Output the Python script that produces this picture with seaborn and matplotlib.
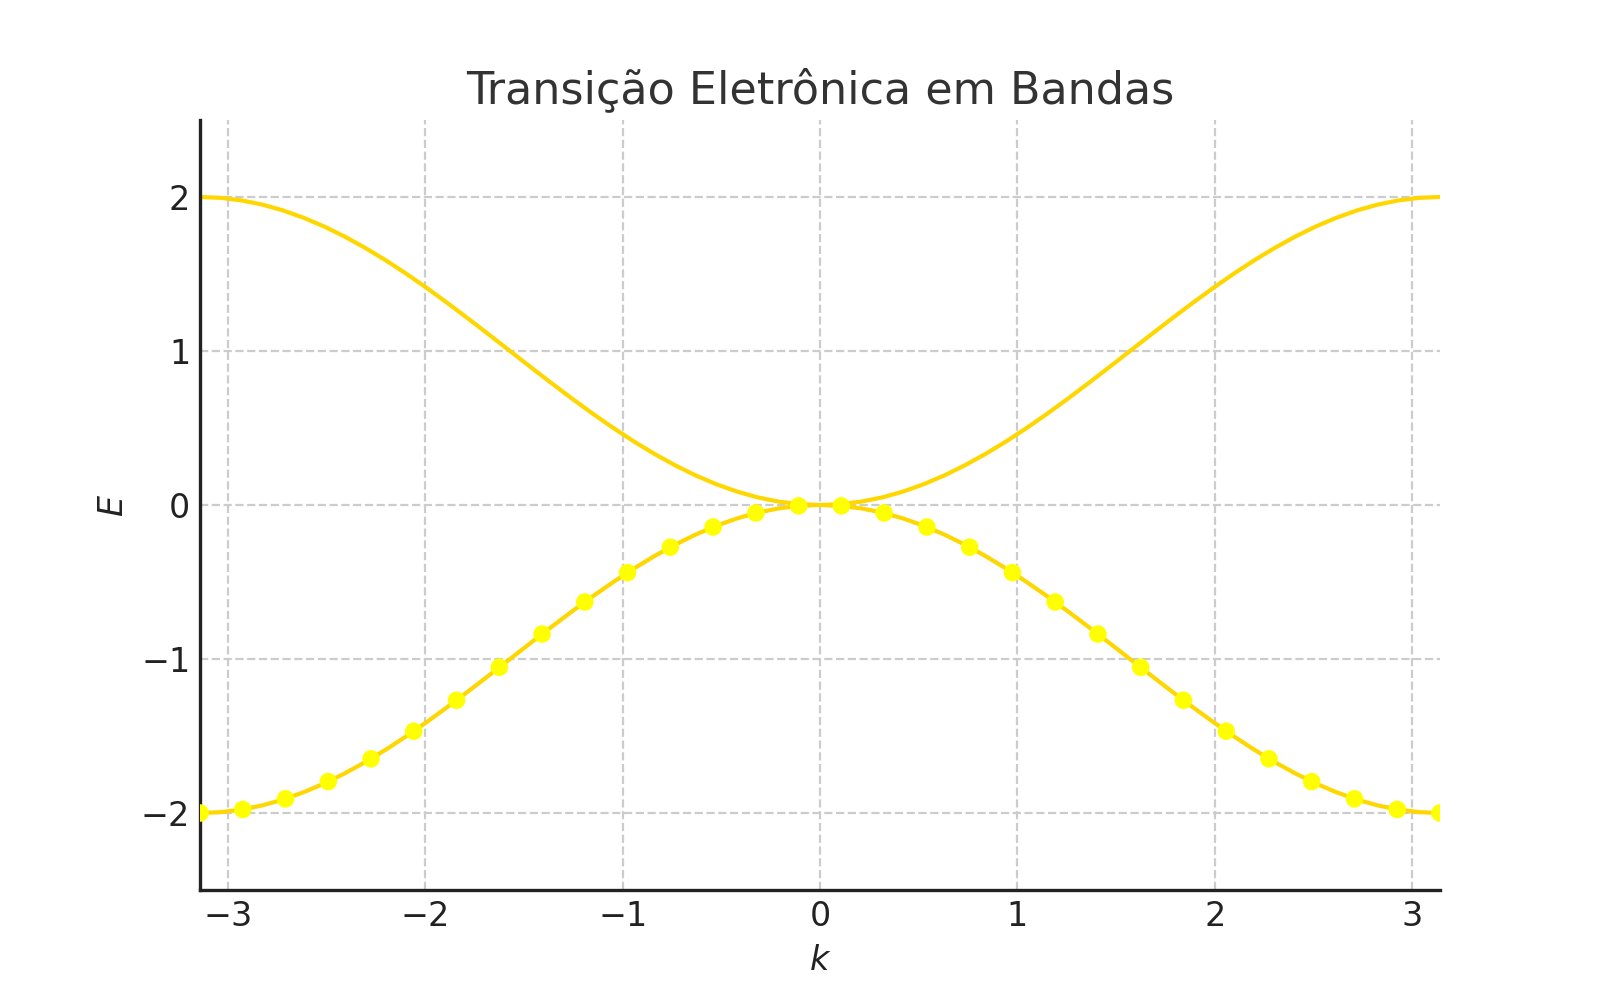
import numpy as np
import pandas as pd
import seaborn as sns
import matplotlib
matplotlib.use("Agg")
import matplotlib.pyplot as plt

# marker positions on the lower band (30 points from -pi to pi)
k_points = [-3.1416, -2.9249, -2.7083, -2.4916, -2.2750, -2.0583, -1.8417, -1.6250,
            -1.4083, -1.1917, -0.9750, -0.7584, -0.5417, -0.3250, -0.1083,
            0.1083, 0.3250, 0.5417, 0.7584, 0.9750, 1.1917, 1.4083, 1.6250,
            1.8417, 2.0583, 2.2750, 2.4916, 2.7083, 2.9249, 3.1416]
E_points = [-2.000, -1.977, -1.908, -1.796, -1.648, -1.469, -1.268, -1.054,
            -0.838, -0.630, -0.439, -0.274, -0.143, -0.052, -0.006,
            -0.006, -0.052, -0.143, -0.274, -0.439, -0.630, -0.838, -1.054,
            -1.268, -1.469, -1.648, -1.796, -1.908, -1.977, -2.000]

# smooth band curves (on a finer k grid)
k_line = [-3.1416, -3.0369, -2.9322, -2.8274, -2.7227, -2.6180, -2.5133, -2.4086,
          -2.3038, -2.1991, -2.0944, -1.9897, -1.8850, -1.7802, -1.6755, -1.5708,
          -1.4661, -1.3614, -1.2566, -1.1519, -1.0472, -0.9425, -0.8378, -0.7330,
          -0.6283, -0.5236, -0.4189, -0.3142, -0.2094, -0.1047, 0.0000,
          0.1047, 0.2094, 0.3142, 0.4189, 0.5236, 0.6283, 0.7330, 0.8378,
          0.9425, 1.0472, 1.1519, 1.2566, 1.3614, 1.4661, 1.5708, 1.6755,
          1.7802, 1.8850, 1.9897, 2.0944, 2.1991, 2.3038, 2.4086, 2.5133,
          2.6180, 2.7227, 2.8274, 2.9322, 3.0369, 3.1416]
E_upper = [2.0000, 1.9945, 1.9781, 1.9511, 1.9135, 1.8660, 1.8090, 1.7431,
           1.6691, 1.5878, 1.5000, 1.4067, 1.3090, 1.2079, 1.1045, 1.0000,
           0.8955, 0.7921, 0.6910, 0.5933, 0.5000, 0.4122, 0.3309, 0.2569,
           0.1910, 0.1340, 0.0865, 0.0489, 0.0219, 0.0055, 0.0000,
           0.0055, 0.0219, 0.0489, 0.0865, 0.1340, 0.1910, 0.2569, 0.3309,
           0.4122, 0.5000, 0.5933, 0.6910, 0.7921, 0.8955, 1.0000, 1.1045,
           1.2079, 1.3090, 1.4067, 1.5000, 1.5878, 1.6691, 1.7431, 1.8090,
           1.8660, 1.9135, 1.9511, 1.9781, 1.9945, 2.0000]
E_lower = [-2.0000, -1.9945, -1.9781, -1.9511, -1.9135, -1.8660, -1.8090, -1.7431,
           -1.6691, -1.5878, -1.5000, -1.4067, -1.3090, -1.2079, -1.1045, -1.0000,
           -0.8955, -0.7921, -0.6910, -0.5933, -0.5000, -0.4122, -0.3309, -0.2569,
           -0.1910, -0.1340, -0.0865, -0.0489, -0.0219, -0.0055, 0.0000,
           -0.0055, -0.0219, -0.0489, -0.0865, -0.1340, -0.1910, -0.2569, -0.3309,
           -0.4122, -0.5000, -0.5933, -0.6910, -0.7921, -0.8955, -1.0000, -1.1045,
           -1.2079, -1.3090, -1.4067, -1.5000, -1.5878, -1.6691, -1.7431, -1.8090,
           -1.8660, -1.9135, -1.9511, -1.9781, -1.9945, -2.0000]

title = "Transição Eletrônica em Bandas"

df_line = pd.DataFrame({"k": k_line, "upper": E_upper, "lower": E_lower})
df_pts = pd.DataFrame({"k": k_points, "E": E_points})

sns.set_style("white")
plt.rcParams['font.family'] = ['DejaVu Sans']

fig, ax = plt.subplots(figsize=(8, 5), dpi=200)

sns.lineplot(data=df_line, x="k", y="upper", ax=ax, color="#FFD700", linewidth=1.5)
sns.lineplot(data=df_line, x="k", y="lower", ax=ax, color="#FFD700", linewidth=1.5)
sns.scatterplot(data=df_pts, x="k", y="E", ax=ax, color="#FFFF00", s=40,
                edgecolor="none", zorder=3)

ax.set_xlim(-np.pi, np.pi)
ax.set_ylim(-2.5, 2.5)
ax.set_yticks([-2, -1, 0, 1, 2])
ax.set_xticks([-3, -2, -1, 0, 1, 2, 3])
ax.set_xlabel("$k$", fontsize=12, color="#222222")
ax.set_ylabel("$E$", fontsize=12, color="#222222")
ax.set_title(title, fontsize=16, color="#333333")
ax.grid(True, linestyle="--", color="#cccccc", linewidth=0.8)
ax.set_axisbelow(True)
ax.tick_params(direction="in", labelsize=12, colors="#222222", length=4, width=1.2)
for s in ["top", "right"]:
    ax.spines[s].set_visible(False)
for s in ["left", "bottom"]:
    ax.spines[s].set_color("#222222")
    ax.spines[s].set_linewidth(1.2)

fig.savefig("out.png", dpi=200)
